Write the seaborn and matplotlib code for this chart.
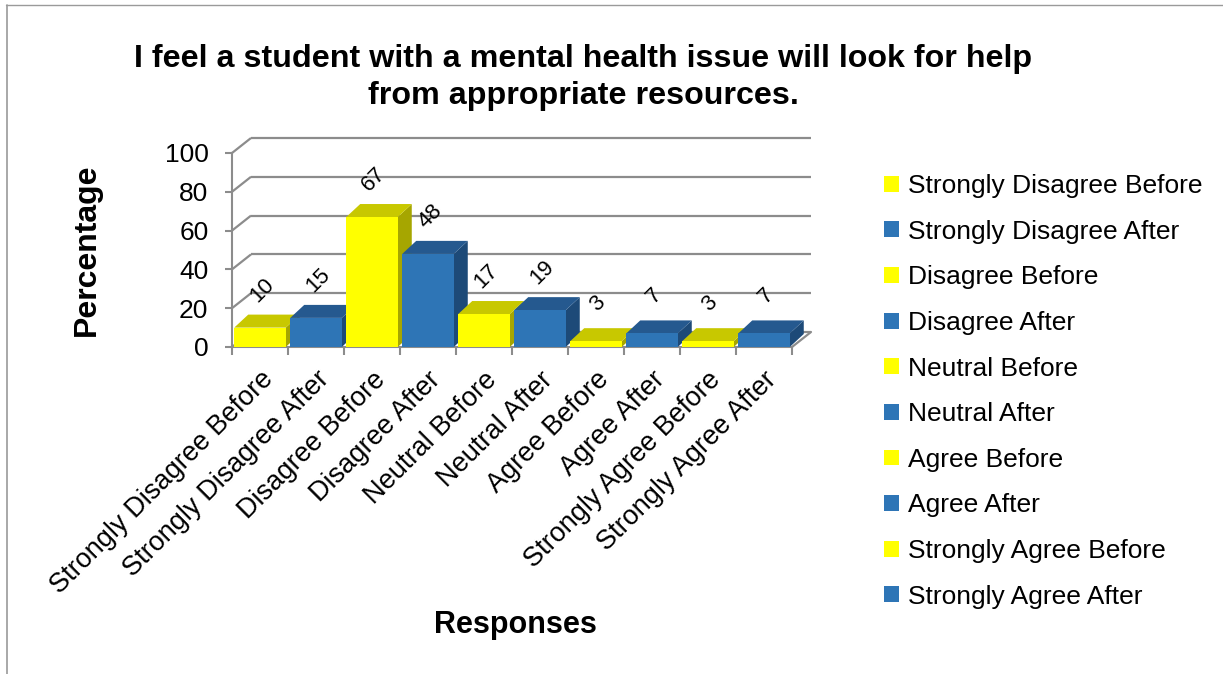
import numpy as np
import pandas as pd
import matplotlib
matplotlib.use("Agg")
import matplotlib.pyplot as plt
from matplotlib.patches import Polygon, Patch
from matplotlib.lines import Line2D
import seaborn as sns

# ---- data ----
categories = [
    "Strongly Disagree Before", "Strongly Disagree After",
    "Disagree Before", "Disagree After",
    "Neutral Before", "Neutral After",
    "Agree Before", "Agree After",
    "Strongly Agree Before", "Strongly Agree After",
]
percentages = [10, 15, 67, 48, 17, 19, 3, 7, 3, 7]
y_ticks = [0, 20, 40, 60, 80, 100]
title = ("I feel a student with a mental health issue will look for help\n"
         "from appropriate resources.")
x_label = "Responses"
y_label = "Percentage"

# ---- styling ----
FRONT = {"Before": "#FFFF00", "After": "#2E75B6"}
TOP = {"Before": "#C8C800", "After": "#25598F"}
SIDE = {"Before": "#A6A600", "After": "#1D4A78"}
GRID = "#8C8C8C"

sns.set_theme(style="white")
plt.rcParams["font.family"] = ["Liberation Sans", "DejaVu Sans"]
plt.rcParams.update({"text.color": "black", "axes.labelcolor": "black",
                     "xtick.color": "black", "ytick.color": "black"})

W, H = 1223, 674
fig = plt.figure(figsize=(W / 100, H / 100), dpi=100)
fig.patch.set_facecolor("white")


def fx(px):
    return px / W


def fy(py):
    return 1 - py / H


ax = fig.add_axes([fx(232), fy(347), fx(792) - fx(232), fy(153) - fy(347)])
ax.patch.set_alpha(0)

df = pd.DataFrame({"response": categories, "pct": percentages})
df["phase"] = df["response"].str.split().str[-1]
palette = {c: FRONT[p] for c, p in zip(df["response"], df["phase"])}

sns.barplot(data=df, x="response", y="pct", hue="response",
            order=categories, hue_order=categories, palette=palette,
            width=0.92, saturation=1, linewidth=0, legend=False, ax=ax)

n = len(categories)
ax.set_xlim(-0.5, n - 0.5)
ax.set_ylim(0, 100)
fig.canvas.draw()

# data units per screen pixel
ux = n / ax.bbox.width
uy = 100 / ax.bbox.height

# depth of the bars and of the back wall, in pixels
bdx, bdy = 14 * ux, 13 * uy
wdx, wdy = 19 * ux, 15 * uy

# back wall gridlines with the left-wall connectors, plus floor edge
for v in y_ticks:
    ax.plot([-0.5, -0.5 + wdx], [v, v + wdy], color=GRID, lw=1.6,
            clip_on=False, zorder=1, solid_capstyle="butt")
    ax.plot([-0.5 + wdx, n - 0.5 + wdx], [v + wdy, v + wdy], color=GRID,
            lw=1.6, clip_on=False, zorder=1, solid_capstyle="butt")
ax.plot([n - 0.5, n - 0.5 + wdx], [0, wdy], color=GRID, lw=1.6,
        clip_on=False, zorder=1)

# 3-D faces for every bar, drawn left to right
patches = sorted(ax.patches, key=lambda p: p.get_x())
for i, (p, phase) in enumerate(zip(patches, df["phase"])):
    x0, w, h = p.get_x(), p.get_width(), p.get_height()
    side = Polygon([(x0 + w, 0), (x0 + w + bdx, bdy),
                    (x0 + w + bdx, h + bdy), (x0 + w, h)],
                   closed=True, facecolor=SIDE[phase], edgecolor="none",
                   clip_on=False, zorder=3 + 2 * i)
    top = Polygon([(x0, h), (x0 + w, h), (x0 + w + bdx, h + bdy),
                   (x0 + bdx, h + bdy)],
                  closed=True, facecolor=TOP[phase], edgecolor="none",
                  clip_on=False, zorder=3 + 2 * i)
    ax.add_patch(side)
    ax.add_patch(top)
    p.set_zorder(4 + 2 * i)
    p.set_clip_on(False)
    ax.annotate(f"{h:g}", xy=(x0 + w / 2, h), xytext=(1.5, 27),
                textcoords="offset points", rotation=45, ha="center",
                va="center", fontsize=16, color="black", zorder=60)

# axes, ticks
for s in ("top", "right"):
    ax.spines[s].set_visible(False)
for s in ("left", "bottom"):
    ax.spines[s].set_color(GRID)
    ax.spines[s].set_linewidth(1.5)
    ax.spines[s].set_zorder(2)

ax.set_yticks(y_ticks)
ax.tick_params(axis="y", left=True, length=5, width=1.5, color=GRID,
               pad=12, labelsize=19, labelcolor="black")
ax.set_xticks(range(n))
ax.set_xticklabels(categories, rotation=45, ha="right",
                   rotation_mode="anchor")
ax.tick_params(axis="x", which="major", bottom=False, length=0, pad=14,
               labelsize=19.5, labelcolor="black")
ax.set_xticks(np.arange(-0.5, n, 1), minor=True)
ax.tick_params(axis="x", which="minor", bottom=True, length=5.8,
               width=1.5, color=GRID)
ax.set_xlabel("")
ax.set_ylabel("")
ax.grid(False)

# titles
fig.text(fx(583), fy(77.5), title, ha="center", va="center", fontsize=23.2,
         fontweight="bold", linespacing=1.27, color="black")
fig.text(fx(87), fy(250), y_label, ha="center", va="center", rotation=90,
         fontsize=23, fontweight="bold", color="black")
fig.text(fx(515), fy(625), x_label, ha="center", va="center",
         fontsize=22, fontweight="bold", color="black")

# legend
handles = [Patch(facecolor=FRONT[p], edgecolor="none") for p in df["phase"]]
fig.legend(handles, categories, loc="upper left",
           bbox_to_anchor=(fx(884), fy(174)), frameon=False, fontsize=19,
           handlelength=0.55, handleheight=0.55, handletextpad=0.35,
           labelspacing=0.82, borderpad=0, borderaxespad=0,
           labelcolor="black")

# outer frame
fig.add_artist(Line2D([fx(6), 1], [fy(4.5), fy(4.5)], color="#9A9A9A", lw=1))
fig.add_artist(Line2D([fx(6.5), fx(6.5)], [fy(4.5), 0], color="#9A9A9A",
                      lw=1.2))

fig.savefig("out.png", dpi=100, facecolor="white")
